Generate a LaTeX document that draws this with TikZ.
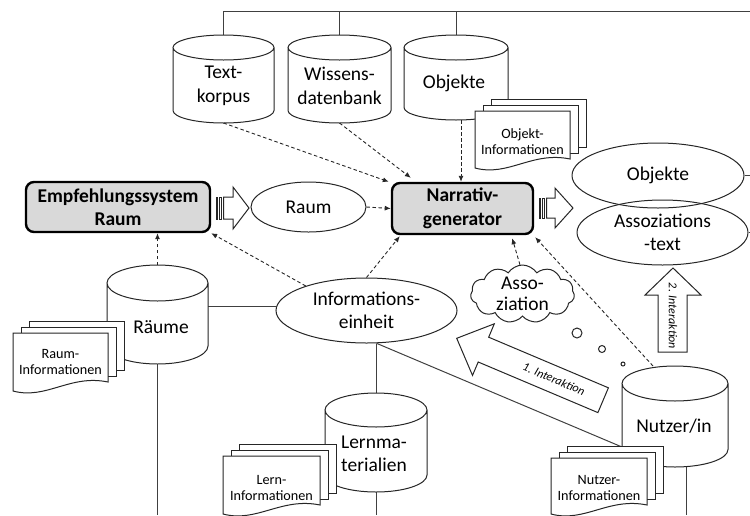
\documentclass[tikz,border=0pt]{standalone}
\usepackage{fontspec}
\setmainfont{Carlito}
\usetikzlibrary{shapes.geometric,shapes.symbols,arrows.meta,calc}
\definecolor{ink}{HTML}{262626}
\definecolor{wire}{HTML}{404040}
\definecolor{boxgray}{HTML}{D9D9D9}
\newcommand\bigtxt{\fontsize{19.5}{23.5}\selectfont}
\newcommand\smalltxt{\fontsize{14.2}{16}\selectfont}
\newcommand\tinytxt{\fontsize{12}{14}\selectfont\itshape}

% database drum drawn over an invisible footprint node: #1 node, #2 end radius
\newcommand\cylshape[2]{%
  \path[cylline] let \p1=(#1.north west), \p2=(#1.south east), \n1={(\x2-\x1)/2} in
    (\x1,\y1-#2pt) -- (\x1,\y2+#2pt)
    arc[start angle=180,end angle=360,x radius=\n1,y radius=#2pt]
    -- (\x2,\y1-#2pt)
    arc[start angle=0,end angle=180,x radius=\n1,y radius=#2pt] -- cycle
    (\x1+\n1,\y1-#2pt) ellipse[x radius=\n1,y radius=#2pt];
}
% stack of three pages: #1,#2 top left of front page, #3 width, #4 height
\newcommand\mdoc[4]{%
  \path[docline] (#1+16,#2-12) rectangle ++(#3,#4);
  \path[docline] (#1+8,#2-6) rectangle ++(#3,#4);
  \path[docline] (#1,#2) -- (#1+#3,#2) -- (#1+#3,#2+#4)
    .. controls (#1+0.6*#3,#2+#4-8) and (#1+0.35*#3,#2+#4+18) .. (#1,#2+#4+9) -- cycle;
}
% striped block arrow: #1 start x, #2 centre y, #3 head base x, #4 tip x, #5 shaft half, #6 head half
\newcommand\striparrow[6]{%
  \path[arrline] (#1,#2-#5) rectangle (#1+1.5,#2+#5);
  \path[arrline] (#1+3.5,#2-#5) rectangle (#1+5.5,#2+#5);
  \path[arrline] (#1+7.5,#2-#5) -- (#3,#2-#5) -- (#3,#2-#6) -- (#4,#2)
    -- (#3,#2+#6) -- (#3,#2+#5) -- (#1+7.5,#2+#5) -- cycle;
}

\tikzset{
  cylline/.style={draw=ink, line width=1, fill=white},
  docline/.style={draw=ink, line width=1, fill=white},
  arrline/.style={draw=ink, line width=1, fill=white, line join=miter},
  conn/.style={draw=wire, line width=1},
  dasharrow/.style={draw=ink, line width=0.9, dash pattern=on 3.5pt off 2.5pt,
    -{Latex[length=6pt,width=5pt]}},
  sysbox/.style={draw=black, line width=2.4, fill=boxgray, rounded corners=8,
    font=\bigtxt\bfseries, align=center, inner sep=2},
  oval/.style={ellipse, draw=ink, line width=1, inner sep=0, font=\bigtxt, align=center},
  cylfoot/.style={inner sep=0, outer sep=0, draw=none},
  cyltext/.style={font=\bigtxt, align=center, inner sep=0},
  doctext/.style={font=\smalltxt, align=center, inner sep=0},
  turntext/.style={font=\tinytxt, inner sep=0},
}

\begin{document}
\begin{tikzpicture}[x=1pt,y=-1pt]
\useasboundingbox (0,0) rectangle (750,515);
\coordinate (topright) at (750,11);
\coordinate (floor) at (0,515);

% footprints of the drums
\node[cylfoot, minimum width=101, minimum height=88]  (tk)  at (223.5,79) {};
\node[cylfoot, minimum width=103, minimum height=88]  (wd)  at (339.5,79) {};
\node[cylfoot, minimum width=104, minimum height=85]  (obj) at (456,77.5) {};
\node[cylfoot, minimum width=101, minimum height=99]  (rm)  at (157.5,314.5) {};
\node[cylfoot, minimum width=102, minimum height=99]  (lm)  at (376,442.5) {};
\node[cylfoot, minimum width=106, minimum height=101] (nu)  at (675,416.5) {};

% boxes and ovals
\node[sysbox, minimum width=184, minimum height=50] (emp) at (118,207) {Empfehlungssystem\\Raum};
\node[sysbox, minimum width=141, minimum height=51] (nar) at (462.5,208.5) {Narrativ-\\generator};
\node[oval, fill=white, minimum width=115, minimum height=50] (raum) at (308.5,207) {Raum};
\node[oval, fill=white, minimum width=181, minimum height=65] (info) at (366.5,310.5) {Informations-\\einheit};
\node[oval, minimum width=172, minimum height=65] (objr) at (658,175.5) {Objekte};
\node[oval, minimum width=171, minimum height=65] (asz) at (662.5,232.5) {Assoziations\\-text};

% solid links
\draw[conn] (tk.north |- topright) -- (topright);
\draw[conn] (tk.north) -- (tk.north |- topright);
\draw[conn] (wd.north) -- (wd.north |- topright);
\draw[conn] (obj.north) -- (obj.north |- topright);
\draw[conn] (objr.east) -- (objr.east -| topright);
\draw[conn] (asz.east) -- (asz.east -| topright);
\draw[conn] ([yshift=8.5pt]rm.east) -- ([yshift=8.5pt]rm.east -| info.west);
\draw[conn] (lm.north) -- (lm.north |- info.south);
\draw[conn] (info.-73) -- ([yshift=-30.5pt]nu.west);
\draw[conn] (rm.south) -- (rm.south |- floor);
\draw[conn] (lm.south) -- (lm.south |- floor);
\draw[conn] ([xshift=11pt]nu.south) -- ([xshift=11pt]nu.south |- floor);

% drums
\cylshape{tk}{12.5}
\cylshape{wd}{12.5}
\cylshape{obj}{12.5}
\cylshape{rm}{18}
\cylshape{lm}{17}
\cylshape{nu}{17.5}
\node[cyltext] (tkt)  at (223.5,86) {Text-\\korpus};
\node[cyltext] (wdt)  at (339.5,86) {Wissens-\\datenbank};
\node[cyltext] (objt) at (454,83) {Objekte};
\node[cyltext] (rmt)  at (161,327) {Räume};
\node[cyltext] (lmt)  at (374,454) {Lernma-\\terialien};
\node[cyltext] (nut)  at (674,426) {Nutzer/in};

% page stacks
\mdoc{475}{111}{95}{48}
\node[doctext] (oinf) at (522.5,142) {Objekt-\\Informationen};
\mdoc{13}{333}{95}{49}
\node[doctext] (rinf) at (60.5,362) {Raum-\\Informationen};
\mdoc{223}{456}{97}{49}
\node[doctext] (linf) at (271.5,488) {Lern-\\Informationen};
\mdoc{551}{458}{96}{47}
\node[doctext] (ninf) at (599,488) {Nutzer-\\Informationen};

% block arrows
\striparrow{216}{208}{233}{249}{11}{21}
\striparrow{539}{208}{555}{573}{10}{20}
\path[arrline] (456.7,338.3) -- (494.3,323.8) -- (488.7,337.2) -- (608.4,387.8)
  -- (597.9,412.6) -- (478.2,362.0) -- (472.5,375.4) -- cycle;
\node[turntext, rotate=-22.9] (int1) at (554,379) {1. Interaktion};
\path[arrline] (658,352) -- (658,295) -- (645,295) -- (673,268) -- (701,295)
  -- (687,295) -- (687,352) -- cycle;
\node[turntext, rotate=-90] (int2) at (673,316) {2. Interaktion};

% thought bubble
\node[cloud, draw=ink, line width=1, fill=white, cloud puffs=11, cloud puff arc=115,
  aspect=1.7, minimum width=104, minimum height=58, inner sep=0, align=center,
  font=\fontsize{19.5}{20.5}\selectfont] (asso) at (522.5,294) {Asso-\\ziation};
\path[arrline] (577,333) circle[radius=5];
\path[arrline] (602,349) circle[radius=3.5];
\path[arrline] (623,364) circle[radius=2];

% information flow
\draw[dasharrow] (tk.south) -- ($(nar.north west)+(-2,0)$);
\draw[dasharrow] (wd.south) -- ($(nar.north west)+(20,-4)$);
\draw[dasharrow] ([xshift=5pt]obj.south) -- ([xshift=5pt]obj.south |- nar.north);
\draw[dasharrow] (raum.east) -- (nar.west);
\draw[dasharrow] (info.north) -- ($(nar.south west)+(9,1)$);
\draw[dasharrow] (info.158) -- (emp.south east);
\draw[dasharrow] (rm.north) -- (rm.north |- emp.south);
\draw[dasharrow] (asso.95) -- ($(nar.south east)+(-22,3)$);
\draw[dasharrow] ($(nu.north)+(-22,0)$) -- ($(nar.south east)+(1,2)$);
\end{tikzpicture}
\end{document}
